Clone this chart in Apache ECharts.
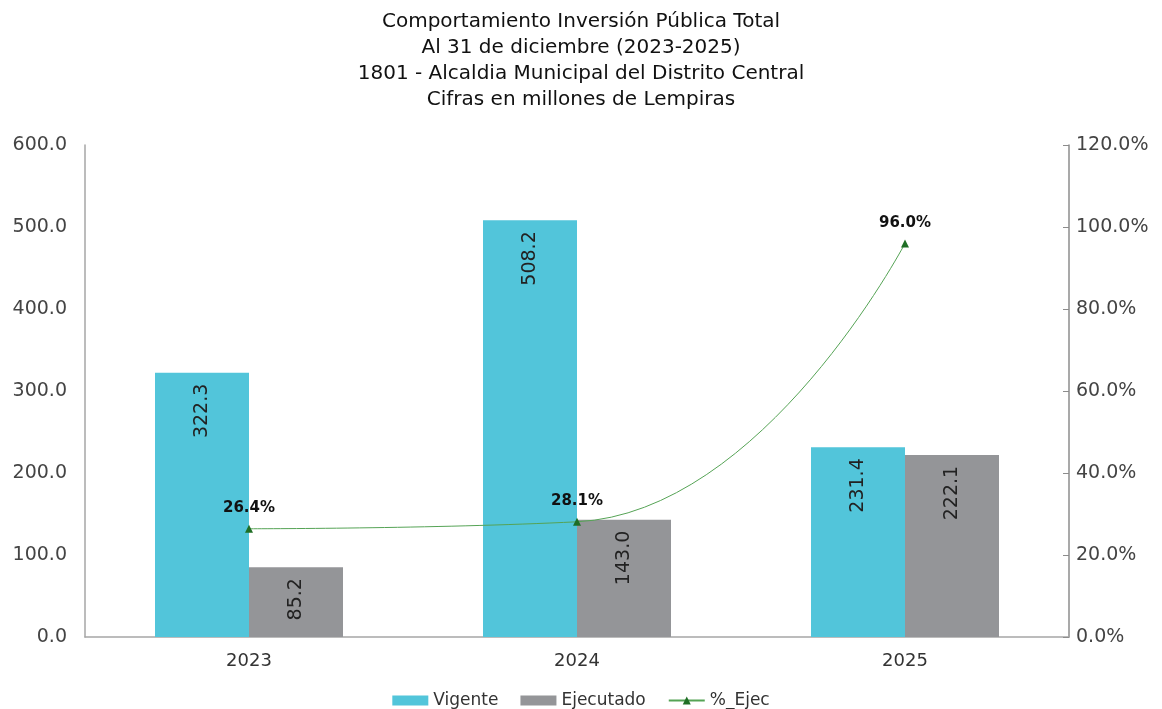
<!DOCTYPE html>
<html lang="es">
<head>
    <meta charset="utf-8">
    <title>Comportamiento Inversión Pública Total</title>
    <script src="https://cdn.jsdelivr.net/npm/echarts@6/dist/echarts.min.js"></script>
    <style>
        html, body { margin: 0; padding: 0; background: #fff; }
    </style>
</head>
<body>
<div id="main" style="width: 1162px;height:709px;"></div>

<script type="text/javascript">
    // datos
    var years = ['2023', '2024', '2025'];
    var vigente = [322.3, 508.2, 231.4];
    var ejecutado = [85.2, 143.0, 222.1];
    var pctEjec = [26.4, 28.1, 96.0];

    var titleLines = [
        'Comportamiento Inversión Pública Total',
        'Al 31 de diciembre (2023-2025)',
        '1801 - Alcaldia Municipal del Distrito Central',
        'Cifras en millones de Lempiras'
    ];

    var FONT = '"DejaVu Sans", sans-serif';
    var myChart = echarts.init(document.getElementById('main'));

    var barLabel = {
        show: true,
        position: 'insideTop',
        rotate: 90,
        align: 'right',
        verticalAlign: 'middle',
        distance: 11,
        fontSize: 19,
        color: '#222',
        fontFamily: FONT,
        formatter: function (p) { return p.value.toFixed(1); }
    };

    var option = {
        textStyle: { fontFamily: FONT },
        title: {
            text: titleLines.join('\n'),
            left: 'center',
            top: 4,
            textStyle: {
                fontSize: 20,
                fontWeight: 'normal',
                color: '#111',
                lineHeight: 26,
                fontFamily: FONT
            }
        },
        legend: {
            top: 687,
            left: 'center',
            itemWidth: 36,
            itemHeight: 10,
            itemGap: 22,
            textStyle: { fontSize: 17, color: '#333' },
            data: [
                { name: 'Vigente', icon: 'rect' },
                { name: 'Ejecutado', icon: 'rect' },
                '%_Ejec'
            ]
        },
        grid: { left: 85, right: 93, top: 145, bottom: 72 },
        xAxis: {
            type: 'category',
            data: years,
            axisLine: { lineStyle: { color: '#a6a6a6', width: 1.5 } },
            axisTick: { show: false },
            axisLabel: { fontSize: 18, color: '#333', margin: 15 }
        },
        yAxis: [{
            type: 'value',
            min: 0,
            max: 600,
            interval: 100,
            splitLine: { show: false },
            axisLine: { show: true, lineStyle: { color: '#a6a6a6', width: 1.5 } },
            axisTick: { show: false },
            axisLabel: {
                fontSize: 19, color: '#444', margin: 18,
                formatter: function (v) { return v.toFixed(1); }
            }
        }, {
            type: 'value',
            min: 0,
            max: 120,
            interval: 20,
            splitLine: { show: false },
            axisLine: { show: true, lineStyle: { color: '#8c8c8c', width: 1.5 } },
            axisTick: { show: true, inside: true, length: 6, lineStyle: { color: '#8c8c8c' } },
            axisLabel: {
                fontSize: 19, color: '#444', margin: 7,
                formatter: function (v) { return v.toFixed(1) + '%'; }
            }
        }],
        series: [{
            name: 'Vigente',
            type: 'bar',
            data: vigente,
            barWidth: 94,
            barGap: '0%',
            itemStyle: { color: '#52c5da' },
            label: barLabel
        }, {
            name: 'Ejecutado',
            type: 'bar',
            data: ejecutado,
            barWidth: 94,
            barGap: '0%',
            itemStyle: { color: '#949598' },
            label: barLabel
        }, {
            name: '%_Ejec',
            type: 'line',
            yAxisIndex: 1,
            data: pctEjec,
            smooth: 0.5,
            symbol: 'triangle',
            symbolSize: 8,
            lineStyle: { color: '#55a355', width: 1 },
            itemStyle: { color: '#1f6e25' },
            label: {
                show: true,
                position: 'top',
                distance: 9,
                fontSize: 15,
                fontWeight: 'bold',
                color: '#111',
                formatter: function (p) { return p.value.toFixed(1) + '%'; }
            }
        }]
    };

    option && myChart.setOption(option);
</script>
</body>
</html>
